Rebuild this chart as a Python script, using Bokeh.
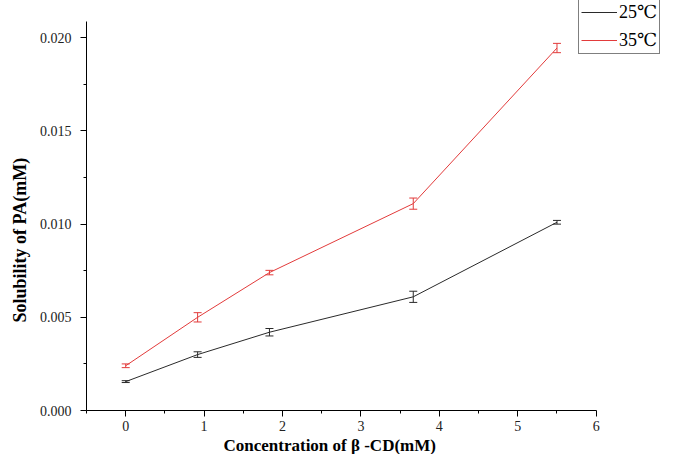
from bokeh.plotting import figure
from bokeh.models import (ColumnDataSource, Whisker, TeeHead, FixedTicker, PrintfTickFormatter,
                          Legend, LegendItem, Range1d, Title)
from bokeh.embed import file_html
from bokeh.resources import INLINE

# Data
conc = [0, 0.917, 1.833, 3.667, 5.5]
sol_25 = [0.00155, 0.0030, 0.0042, 0.0061, 0.0101]
err_25 = [0.00005, 0.00015, 0.0002, 0.0003, 0.0001]
sol_35 = [0.0024, 0.0050, 0.0074, 0.0111, 0.01945]
err_35 = [0.0001, 0.00025, 0.00012, 0.0003, 0.00025]
x_ticks = [0, 1, 2, 3, 4, 5, 6]
x_minor = [-0.5, 0.5, 1.5, 2.5, 3.5, 4.5, 5.5]
y_ticks = [0.0, 0.005, 0.010, 0.015, 0.020]
y_minor = [0.0025, 0.0075, 0.0125, 0.0175]
labels = ["25\u2103", "35\u2103"]
x_title = "Concentration of \u03b2 -CD(mM)"
y_title = "Solubility of PA(mM)"

FONT = "Liberation Serif"
C25 = "#2a2a2a"
C35 = "#e23b3b"

# axis extents shown in the reference; the frame is wider/taller so the legend is not clipped
X_AX = (-0.5, 6)
Y_AX = (0, 0.0209)

p = figure(width=664, height=454, output_backend="svg", toolbar_location=None,
           x_range=Range1d(-0.5, 6.871), y_range=Range1d(0, 0.0220),
           min_border_left=80, min_border_top=0, min_border_right=0, min_border_bottom=0)
p.outline_line_color = None
p.xgrid.visible = False
p.ygrid.visible = False
p.background_fill_color = "white"

src25 = ColumnDataSource(dict(x=conc, y=sol_25, lo=[a - b for a, b in zip(sol_25, err_25)],
                              hi=[a + b for a, b in zip(sol_25, err_25)]))
src35 = ColumnDataSource(dict(x=conc, y=sol_35, lo=[a - b for a, b in zip(sol_35, err_35)],
                              hi=[a + b for a, b in zip(sol_35, err_35)]))

r25 = p.line("x", "y", source=src25, line_color=C25, line_width=1)
r35 = p.line("x", "y", source=src35, line_color=C35, line_width=1)

for src, col in ((src25, C25), (src35, C35)):
    w = Whisker(source=src, base="x", upper="hi", lower="lo", line_color=col, line_width=1,
                upper_head=TeeHead(size=8, line_color=col, line_width=1),
                lower_head=TeeHead(size=8, line_color=col, line_width=1))
    p.add_layout(w)

for ax in (p.xaxis[0], p.yaxis[0]):
    ax.axis_line_color = "black"
    ax.axis_line_width = 1
    ax.major_tick_line_color = "black"
    ax.minor_tick_line_color = "black"
    ax.major_tick_in = 0
    ax.minor_tick_in = 0
    ax.major_tick_out = 6
    ax.minor_tick_out = 3
    ax.major_label_text_font = FONT
    ax.major_label_text_font_size = "14px"
    ax.major_label_text_color = "#222222"

p.xaxis.bounds = X_AX
p.yaxis.bounds = Y_AX
p.xaxis.ticker = FixedTicker(ticks=x_ticks, minor_ticks=x_minor)
p.yaxis.ticker = FixedTicker(ticks=y_ticks, minor_ticks=y_minor)
p.yaxis.formatter = PrintfTickFormatter(format="%.3f")
p.xaxis.major_label_standoff = 4
p.yaxis.major_label_standoff = 9

p.add_layout(Title(text=x_title, align="left", offset=137, standoff=0,
                   text_font=FONT, text_font_size="17px", text_font_style="bold",
                   text_color="black"), "below")
p.add_layout(Title(text=y_title, align="left", offset=88, standoff=14,
                   text_font=FONT, text_font_size="18px", text_font_style="bold",
                   text_color="black"), "left")

legend = Legend(items=[LegendItem(label=labels[0], renderers=[r25]),
                       LegendItem(label=labels[1], renderers=[r35])],
                location=(492, 356), orientation="vertical",
                border_line_color="black", border_line_width=1, background_fill_alpha=1,
                label_text_font="Liberation Serif, DejaVu Serif", label_text_font_size="18px",
                label_text_color="black",
                glyph_width=36, glyph_height=20, label_height=20, label_standoff=2,
                spacing=6, padding=2, margin=0)
p.add_layout(legend, "center")

open("out.html", "w").write(file_html(p, INLINE))
